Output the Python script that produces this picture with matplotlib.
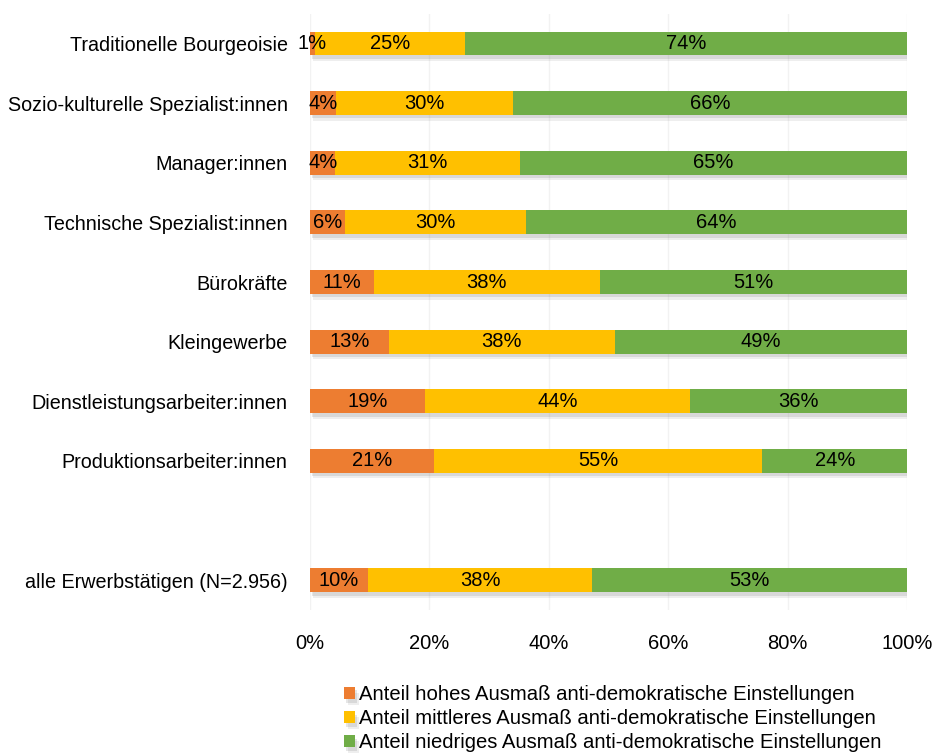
import numpy as np
import matplotlib
matplotlib.use("Agg")
import matplotlib.pyplot as plt
import matplotlib.patheffects as pe

plt.rcParams['font.family'] = ['Liberation Sans', 'DejaVu Sans']

# Data (shares in %)
groups = ['Traditionelle Bourgeoisie', 'Sozio-kulturelle Spezialist:innen',
          'Manager:innen', 'Technische Spezialist:innen', 'Bürokräfte',
          'Kleingewerbe', 'Dienstleistungsarbeiter:innen',
          'Produktionsarbeiter:innen', 'alle Erwerbstätigen (N=2.956)']
row_pos = [0, 1, 2, 3, 4, 5, 6, 7, 9]
high = [0.9, 4.4, 4.3, 5.9, 10.7, 13.2, 19.3, 20.8, 9.7]
mid = [25.1, 29.6, 30.9, 30.3, 37.9, 37.9, 44.4, 55.0, 37.6]
low = [74.0, 66.0, 64.8, 63.8, 51.4, 48.9, 36.3, 24.2, 52.7]
series_names = ['Anteil hohes Ausmaß anti-demokratische Einstellungen',
                'Anteil mittleres Ausmaß anti-demokratische Einstellungen',
                'Anteil niedriges Ausmaß anti-demokratische Einstellungen']
colors = ['#ED7D31', '#FFC000', '#70AD47']

fig = plt.figure(figsize=(9.36, 7.56), dpi=100)
ax = fig.add_axes([0.331, 0.193, 0.638, 0.789])

# soft drop shadow under the bars
shadow = [pe.SimplePatchShadow(offset=(2.5, -4), shadow_rgbFace='#777777', alpha=0.12),
          pe.SimplePatchShadow(offset=(1.5, -2.5), shadow_rgbFace='#777777', alpha=0.18),
          pe.Normal()]

left = np.zeros(len(groups))
for vals, name, col in zip([high, mid, low], series_names, colors):
    bars = ax.barh(row_pos, vals, left=left, height=0.4, color=col, label=name,
                   zorder=3)
    for b in bars:
        b.set_path_effects(shadow)
    ax.bar_label(bars, labels=[f'{v:.0f}%' for v in vals], label_type='center',
                 fontsize=14.5, color='black', zorder=4)
    left += np.array(vals)

ax.set_xlim(0, 100)
ax.set_ylim(9.5, -0.5)
ax.set_yticks(row_pos)
ax.set_yticklabels(groups, fontsize=14.2)
ax.set_xticks([0, 20, 40, 60, 80, 100])
ax.set_xticklabels(['0%', '20%', '40%', '60%', '80%', '100%'], fontsize=14.5)
ax.tick_params(axis='both', length=0)
ax.tick_params(axis='x', pad=17)
ax.tick_params(axis='y', pad=16)
ax.grid(axis='x', color='#f2f2f2', linewidth=1, zorder=0)
for s in ax.spines.values():
    s.set_visible(False)

fig.legend(loc='upper center', bbox_to_anchor=(0.655, 0.107), frameon=False,
           fontsize=14.6, handlelength=0.55, handleheight=0.55, handletextpad=0.2,
           labelspacing=0.25, borderpad=0, alignment='left')

fig.savefig('out.png', dpi=100)
